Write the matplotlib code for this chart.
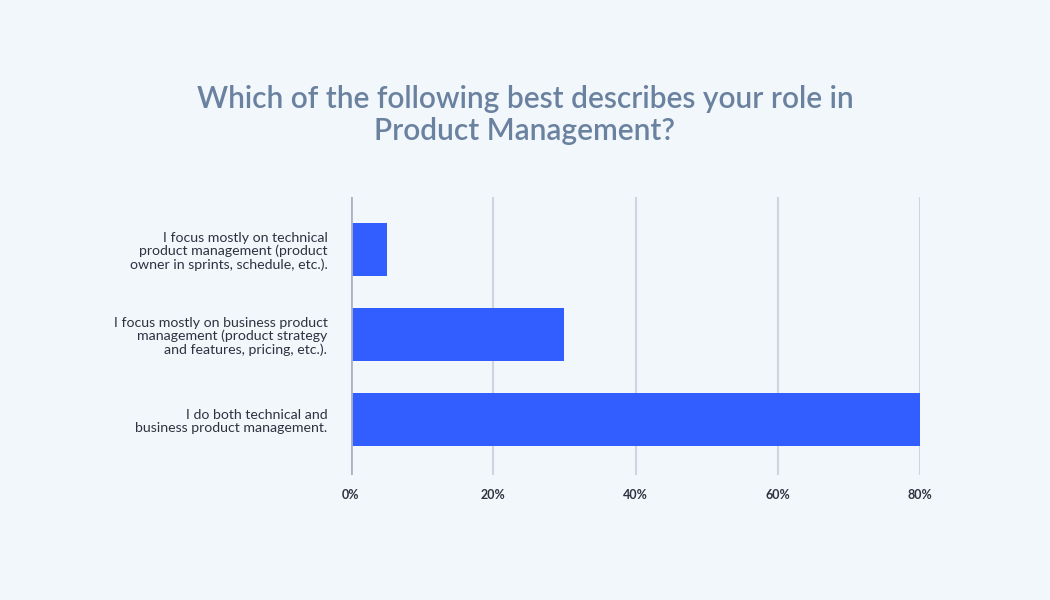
import matplotlib.pyplot as plt
import numpy as np

categories = [
    "I focus mostly on technical\nproduct management (product\nowner in sprints, schedule, etc.).",
    "I focus mostly on business product\nmanagement (product strategy\nand features, pricing, etc.).",
    "I do both technical and\nbusiness product management.",
]
values = [5, 30, 80]
ticks = [0, 20, 40, 60, 80]
tick_labels = ["0%", "20%", "40%", "60%", "80%"]

bg = "#f2f7fc"
plt.rcParams['font.family'] = ['Lato', 'DejaVu Sans']

fig = plt.figure(figsize=(10.5, 6), dpi=100, facecolor=bg)
ax = fig.add_axes([351 / 1050, 1 - 475 / 600, (920 - 351) / 1050, (475 - 197) / 600])
ax.set_facecolor(bg)

y = np.arange(len(categories))
ax.barh(y, values, height=0.62, color="#335eff", zorder=3)

ax.set_xlim(0, 80)
ax.set_ylim(2.65, -0.62)
ax.set_xticks(ticks)
ax.set_xticklabels(tick_labels, fontsize=9, fontweight="bold", color="#2d3340")
ax.set_yticks(y)
ax.set_yticklabels(categories, fontsize=10.2, color="#2d3340", linespacing=1.1)
ax.tick_params(axis="both", length=0)
ax.tick_params(axis="y", pad=17)
ax.tick_params(axis="x", pad=10)

for t in ticks[1:]:
    ax.axvline(t, color="#cdd5e2", lw=1.5, zorder=1)
ax.axvline(0, color="#a9b3c2", lw=2, zorder=4)

for s in ax.spines.values():
    s.set_visible(False)

fig.text(0.5, 1 - 115 / 600, "Which of the following best describes your role in\nProduct Management?",
         ha="center", va="center", fontsize=21.5, fontweight="semibold", color="#6a82a0",
         linespacing=1.2)

fig.savefig("out.png", dpi=100, facecolor=bg)
